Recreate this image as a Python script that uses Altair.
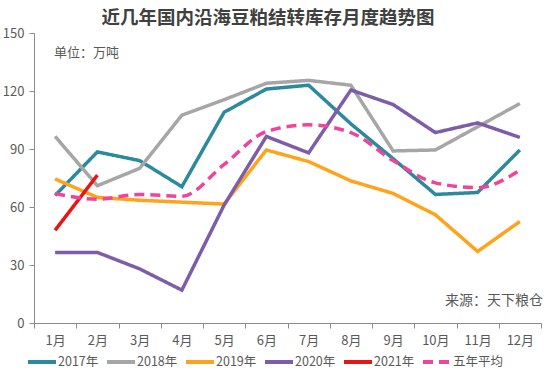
import altair as alt
import pandas as pd

months = ["1月", "2月", "3月", "4月", "5月", "6月", "7月", "8月", "9月", "10月", "11月", "12月"]
y2017 = [66, 88.5, 84, 70.5, 109, 121, 123, 103, 85, 66.5, 67.5, 89.5]
y2018 = [96.5, 71, 80, 107.5, 115.5, 124, 125.5, 123, 89, 89.5, 101.5, 113.5]
y2019 = [74.5, 65, 63.5, 62.5, 61.5, 89.5, 83.5, 73.5, 67, 56, 37, 52.5]
y2020 = [36.5, 36.5, 28, 17, 61, 96.5, 88, 120.5, 113, 98.5, 103.5, 96]
y2021 = [48, 76.5]
avg5 = [67, 64, 66.5, 65.5, 82, 99, 102.5, 98.5, 84, 72.5, 70, 79]

series_names = ["2017年", "2018年", "2019年", "2020年", "2021年", "五年平均"]
series_values = [y2017, y2018, y2019, y2020, y2021, avg5]
colors = ["#2B8A9B", "#A6A6A6", "#FFA31A", "#7E5DA8", "#E81515", "#F0449C"]
dashes = [[1, 0], [1, 0], [1, 0], [1, 0], [1, 0], [10, 6]]

rows = []
for name, vals in zip(series_names, series_values):
    for i, v in enumerate(vals):
        rows.append({"month": months[i], "value": v, "series": name, "order": i})
df = pd.DataFrame(rows)

FONT = "Noto Sans CJK SC"

x_enc = alt.X("month:N", sort=months, bandPosition=0.5,
              scale=alt.Scale(type="band", paddingInner=0, paddingOuter=0),
              axis=alt.Axis(title=None, tickBand="extent", labelAngle=0, labelFontSize=13,
                            labelColor="#595959", labelFont=FONT, domainColor="#8C8C8C",
                            tickColor="#8C8C8C", tickSize=5, labelPadding=6))
y_enc = alt.Y("value:Q", scale=alt.Scale(domain=[0, 150]),
              axis=alt.Axis(title=None, values=[0, 30, 60, 90, 120, 150], grid=False,
                            labelFontSize=13, labelColor="#595959", labelFont=FONT,
                            domainColor="#8C8C8C", tickColor="#8C8C8C", tickSize=5,
                            labelPadding=5))

def make_legend():
    return alt.Legend(title=None, orient="none", direction="horizontal",
                      columns=6, legendX=-8, legendY=313,
                      symbolType="stroke", symbolSize=784,
                      symbolStrokeWidth=4, labelFontSize=12.5,
                      labelFont=FONT, labelColor="#595959",
                      labelOffset=0, columnPadding=0)

color_enc = alt.Color("series:N", scale=alt.Scale(domain=series_names, range=colors),
                      legend=make_legend())
dash_enc = alt.StrokeDash("series:N", scale=alt.Scale(domain=series_names, range=dashes),
                          legend=make_legend())

base = alt.Chart(df)

solid = base.transform_filter(alt.datum.series != "五年平均").mark_line(strokeWidth=3.5).encode(
    x=x_enc, y=y_enc, color=color_enc, strokeDash=dash_enc, order="order:Q",
    detail="series:N")

avg_line = base.transform_filter(alt.datum.series == "五年平均").mark_line(
    strokeWidth=3.5, interpolate="monotone").encode(
    x=x_enc, y=y_enc, color=color_enc, strokeDash=dash_enc, order="order:Q")

title = alt.Chart(pd.DataFrame({"t": ["近几年国内沿海豆粕结转库存月度趋势图"]})).mark_text(
    font=FONT, fontSize=18.5, fontWeight="bold", color="#404040", align="center",
    baseline="middle").encode(text="t:N", x=alt.value(234), y=alt.value(-15))

unit = alt.Chart(pd.DataFrame({"t": ["单位：万吨"]})).mark_text(
    font=FONT, fontSize=13, color="#595959", align="left", baseline="middle").encode(
    text="t:N", x=alt.value(20), y=alt.value(20))

src = alt.Chart(pd.DataFrame({"t": ["来源：天下粮仓"]})).mark_text(
    font=FONT, fontSize=14, color="#595959", align="right", baseline="middle").encode(
    text="t:N", x=alt.value(509), y=alt.value(268))

chart = alt.layer(solid, avg_line, title, unit, src).properties(
    width=507, height=290,
    autosize=alt.AutoSizeParams(type="none"),
    padding={"left": 34, "top": 33, "right": 9, "bottom": 52},
    background="white",
).configure_view(stroke=None)

chart.save("out.html", embed_options={"renderer": "svg", "actions": False})
